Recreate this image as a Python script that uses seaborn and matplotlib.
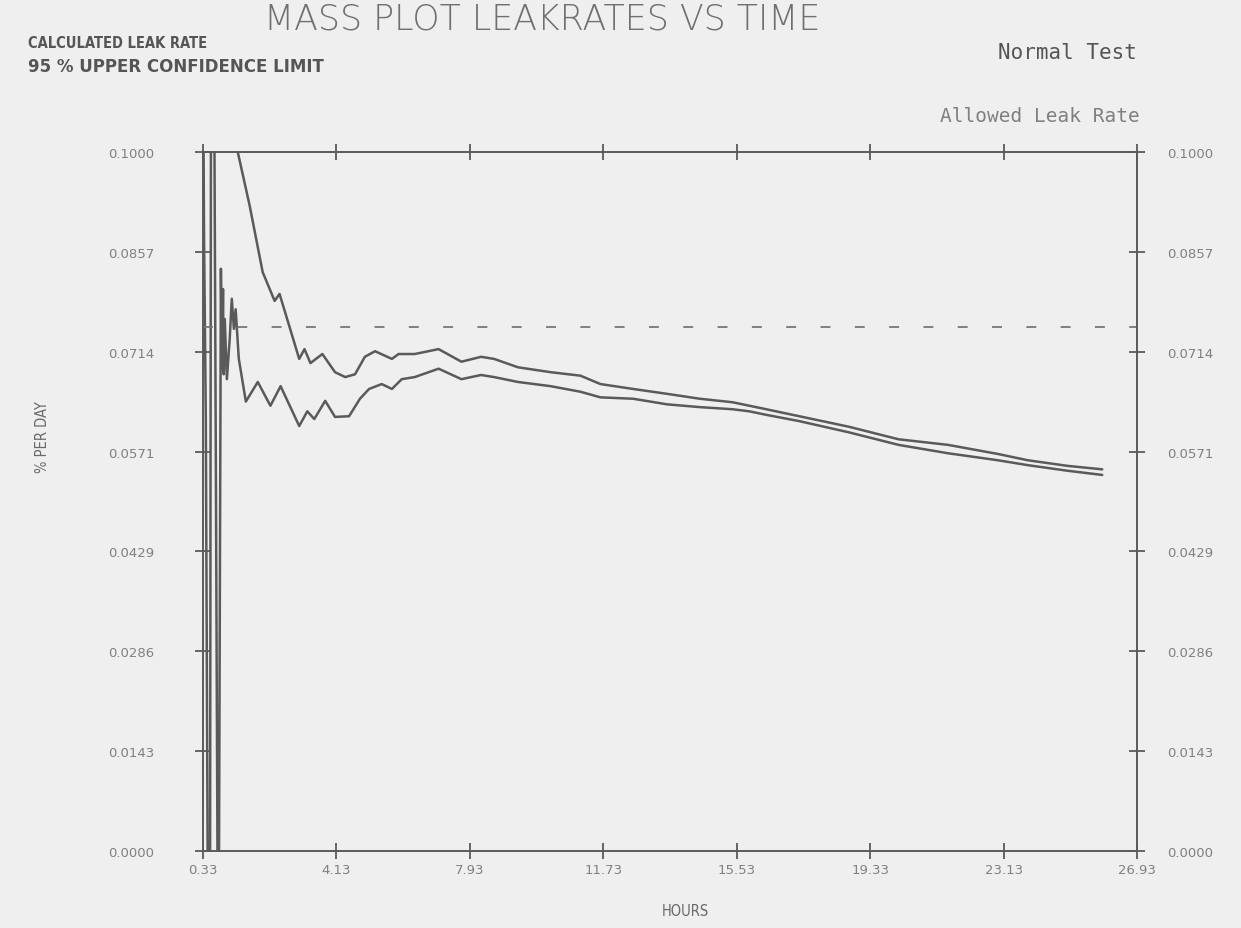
import numpy as np
import pandas as pd
import matplotlib
matplotlib.use("Agg")
import matplotlib.pyplot as plt
import seaborn as sns

# ---------------- data ----------------
calc_hours = [0.33, 0.36, 0.41, 0.47, 0.53, 0.56, 0.64, 0.70, 0.75, 0.78,
              0.84, 0.87, 0.90, 0.92, 0.95, 1.01, 1.09, 1.15, 1.21, 1.26,
              1.35, 1.55, 1.89, 2.25, 2.54, 3.07, 3.30, 3.50, 3.81, 4.09,
              4.49, 4.80, 5.06, 5.42, 5.71, 5.99, 6.36, 7.04, 7.69, 8.25,
              8.62, 9.30, 10.23, 11.08, 11.65, 12.58, 13.55, 14.48, 15.41, 15.89,
              16.37, 17.31, 18.72, 20.14, 21.55, 22.97, 23.82, 24.95, 25.94]
calc_rate = [0.1150, 0.0879, 0.0618, -0.0100, -0.0100, 0.1200, 0.1200, 0.0504, -0.0100, -0.0100,
             0.0833, 0.0690, 0.0804, 0.0682, 0.0761, 0.0675, 0.0732, 0.0790, 0.0747, 0.0775,
             0.0704, 0.0643, 0.0671, 0.0637, 0.0665, 0.0608, 0.0629, 0.0618, 0.0644, 0.0621,
             0.0622, 0.0647, 0.0661, 0.0668, 0.0661, 0.0675, 0.0678, 0.0690, 0.0675, 0.0681,
             0.0678, 0.0671, 0.0665, 0.0657, 0.0649, 0.0647, 0.0639, 0.0635, 0.0632, 0.0629,
             0.0624, 0.0615, 0.0599, 0.0581, 0.0569, 0.0559, 0.0552, 0.0544, 0.0538]

ucl_hours = [0.67, 1.32, 1.66, 2.03, 2.37, 2.51, 3.07, 3.22, 3.39, 3.73,
             4.09, 4.38, 4.66, 4.94, 5.23, 5.71, 5.90, 6.36, 7.04, 7.69,
             8.25, 8.62, 9.30, 10.23, 11.08, 11.65, 12.58, 13.55, 14.48, 15.41,
             15.89, 16.37, 17.31, 18.72, 20.14, 21.55, 22.97, 23.82, 24.95, 25.94]
ucl_rate = [0.1300, 0.1000, 0.0923, 0.0828, 0.0787, 0.0797, 0.0704, 0.0718, 0.0698, 0.0711,
            0.0685, 0.0678, 0.0682, 0.0707, 0.0715, 0.0704, 0.0711, 0.0711, 0.0718, 0.0700,
            0.0707, 0.0704, 0.0692, 0.0685, 0.0680, 0.0668, 0.0661, 0.0654, 0.0647, 0.0642,
            0.0637, 0.0632, 0.0622, 0.0607, 0.0589, 0.0581, 0.0568, 0.0559, 0.0551, 0.0546]

allowed_hours = [0.33, 26.93]
allowed_rate = [0.075, 0.075]

x_tick_labels = ["0.33", "4.13", "7.93", "11.73", "15.53", "19.33", "23.13", "26.93"]
y_tick_labels = ["0.0000", "0.0143", "0.0286", "0.0429", "0.0571", "0.0714", "0.0857", "0.1000"]

# ---------------- style ----------------
sns.set_style("ticks")
plt.rcParams["font.family"] = ["DejaVu Sans"]
ink = "#5a5a5a"
paper = "#efefef"
label_col = "#808080"

fig = plt.figure(figsize=(12.41, 9.29), dpi=100, facecolor=paper)
ax = fig.add_axes([203 / 1241, 1 - 852 / 929, (1137 - 203) / 1241, (852 - 153) / 929])
ax.set_facecolor(paper)

df_calc = pd.DataFrame({"hours": calc_hours, "rate": calc_rate})
df_ucl = pd.DataFrame({"hours": ucl_hours, "rate": ucl_rate})
df_allow = pd.DataFrame({"hours": allowed_hours, "rate": allowed_rate})

sns.lineplot(data=df_calc, x="hours", y="rate", ax=ax, estimator=None, sort=False,
             color=ink, linewidth=1.8)
sns.lineplot(data=df_ucl, x="hours", y="rate", ax=ax, estimator=None, sort=False,
             color=ink, linewidth=1.8)
sns.lineplot(data=df_allow, x="hours", y="rate", ax=ax, estimator=None, sort=False,
             color="#777777", linewidth=1.3)
ax.lines[-1].set_dashes((5.5, 13.5))

xt = [float(s) for s in x_tick_labels]
yt = [float(s) for s in y_tick_labels]
ax.set_xlim(xt[0], xt[-1])
ax.set_ylim(0.0, 0.1)
ax.set_xticks(xt)
ax.set_xticklabels(x_tick_labels)
ax.set_yticks(yt)
ax.set_yticklabels(y_tick_labels)

for s in ax.spines.values():
    s.set_color(ink)
    s.set_linewidth(1.4)
ax.tick_params(axis="both", direction="inout", length=12, width=1.3, color=ink,
               labelcolor=label_col, labelsize=9.5, top=True, right=True)
ax.tick_params(axis="x", pad=3)
ax.tick_params(axis="y", pad=29)

# right-hand axis labels
ax2 = ax.twinx()
ax2.set_ylim(0.0, 0.1)
ax2.set_yticks(yt)
ax2.set_yticklabels(y_tick_labels)
ax2.tick_params(axis="y", direction="inout", length=12, width=1.3, color=ink,
                labelcolor=label_col, labelsize=9.5, pad=16)
for s in ax2.spines.values():
    s.set_visible(False)
ax2.grid(False)

ax.set_xlabel("HOURS", color="#6a6a6a", fontsize=10.5, fontstretch="condensed")
ax.xaxis.set_label_coords((685 - 203) / 934, -(904 - 852) / 699)
ax.set_ylabel("% PER DAY", color="#6a6a6a", fontsize=10.5, fontstretch="condensed")
ax.yaxis.set_label_coords((50 - 203) / 934, (852 - 437) / 699)

fig.text(542 / 1241, 1 - 19 / 929, "MASS PLOT LEAKRATES VS TIME", ha="center", va="center",
         fontsize=25, color="#707070", fontweight="light")
fig.text(28 / 1241, 1 - 44 / 929, "CALCULATED LEAK RATE", ha="left", va="center",
         fontsize=10.5, color="#555555", fontweight="bold", fontstretch="condensed")
fig.text(28 / 1241, 1 - 67 / 929, "95 % UPPER CONFIDENCE LIMIT", ha="left", va="center",
         fontsize=12, color="#555555", fontweight="bold")
fig.text(1137 / 1241, 1 - 53 / 929, "Normal Test", ha="right", va="center",
         fontsize=15, color="#555555", family="DejaVu Sans Mono")
fig.text(1140 / 1241, 1 - 117 / 929, "Allowed Leak Rate", ha="right", va="center",
         fontsize=14, color="#808080", family="DejaVu Sans Mono")

fig.savefig("out.png", dpi=100, facecolor=paper)
